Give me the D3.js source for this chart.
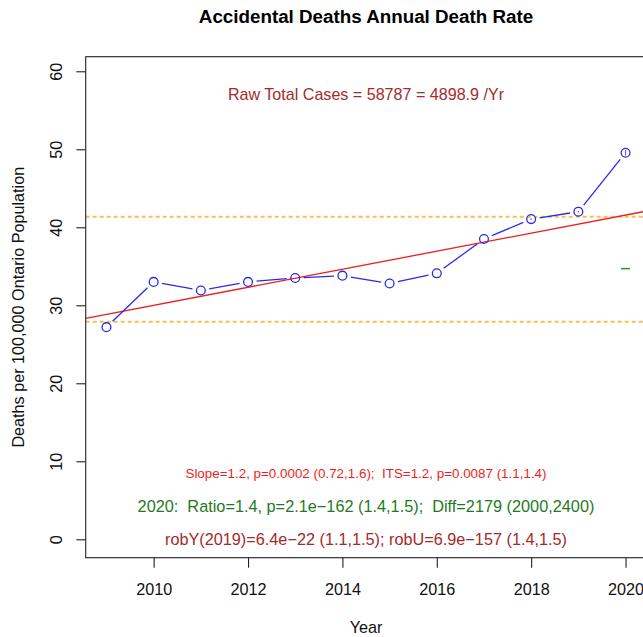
<!DOCTYPE html>
<html><head><meta charset="utf-8">
<script src="https://cdn.jsdelivr.net/npm/d3@7"></script>
<style>
html,body{margin:0;padding:0;background:#fff;overflow:hidden}
svg{display:block;font-family:"Liberation Sans",Arial,Helvetica,sans-serif}
svg text{white-space:pre}
</style></head>
<body>
<script>
// ---- data ----
const years = [2009,2010,2011,2012,2013,2014,2015,2016,2017,2018,2019,2020];
const rates = [27.2,33.0,31.9,33.0,33.5,33.8,32.8,34.1,38.5,41.05,42.0,49.55];
const ciYears = [2018,2019,2020];
const ciLow  = [40.95,41.9,49.2];
const ciHigh = [41.15,42.1,49.9];
const trendYears = [2009,2020];
const trendValues = [28.84,41.56];
const bandValues = [27.9,41.35];
const expected2020 = [34.7];
const xTicks = [2010,2012,2014,2016,2018,2020];
const yTicks = [0,10,20,30,40,50,60];
const title = "Accidental Deaths Annual Death Rate";
const xLabel = "Year";
const yLabel = "Deaths per 100,000 Ontario Population";
const noteTop = "Raw Total Cases = 58787 = 4898.9 /Yr";
const noteSlope = "Slope=1.2, p=0.0002 (0.72,1.6);  ITS=1.2, p=0.0087 (1.1,1.4)";
const noteRatio = "2020:  Ratio=1.4, p=2.1e\u2212162 (1.4,1.5);  Diff=2179 (2000,2400)";
const noteRob = "robY(2019)=6.4e\u221222 (1.1,1.5); robU=6.9e\u2212157 (1.4,1.5)";

const W = 643, H = 637;
const L = 85.7, R = 646.3, T = 56.7, B = 557.7;
const x = d3.scaleLinear().domain([2008.56, 2020.44]).range([L, R]);
const y = d3.scaleLinear().domain([-2.36, 61.87]).range([B, T]);

const svg = d3.select("body").append("svg").attr("width", W).attr("height", H);
svg.append("defs").append("clipPath").attr("id","clip")
  .append("rect").attr("x",L).attr("y",T).attr("width",R-L).attr("height",B-T);

const plot = svg.append("g").attr("clip-path","url(#clip)");

// dashed orange bands
plot.selectAll("line.band").data(bandValues).enter().append("line")
  .attr("x1", L).attr("x2", R).attr("y1", d=>y(d)).attr("y2", d=>y(d))
  .attr("stroke", "#f7bf4f").attr("stroke-width", 2).attr("stroke-dasharray","4,3");

// trend line (extended across plot)
const slope = (trendValues[1]-trendValues[0])/(trendYears[1]-trendYears[0]);
const tv = yr => trendValues[0] + slope*(yr-trendYears[0]);
const [d0, d1] = x.domain();
plot.append("line")
  .attr("x1", x(d0)).attr("y1", y(tv(d0))).attr("x2", x(d1)).attr("y2", y(tv(d1)))
  .attr("stroke", "#ee1c1c").attr("stroke-width", 1.3);

// connecting segments with gaps (type="b")
const gap = 8.5;
const pts = years.map((yr,i)=>[x(yr), y(rates[i])]);
const segs = d3.pairs(pts).map(([a,b])=>{
  const dx=b[0]-a[0], dy=b[1]-a[1], len=Math.hypot(dx,dy);
  const ux=dx/len, uy=dy/len;
  return [a[0]+ux*gap, a[1]+uy*gap, b[0]-ux*gap, b[1]-uy*gap, len];
}).filter(s=>s[4]>2*gap);
plot.selectAll("line.seg").data(segs).enter().append("line")
  .attr("x1",d=>d[0]).attr("y1",d=>d[1]).attr("x2",d=>d[2]).attr("y2",d=>d[3])
  .attr("stroke","#2a2ae6").attr("stroke-width",1.3);

// small CI marks
plot.selectAll("line.ci").data(ciYears).enter().append("line")
  .attr("x1",d=>x(d)).attr("x2",d=>x(d))
  .attr("y1",(d,i)=>y(ciLow[i])).attr("y2",(d,i)=>y(ciHigh[i]))
  .attr("stroke","#6a6ae6").attr("stroke-width",1.2);

// points
plot.selectAll("circle").data(years).enter().append("circle")
  .attr("cx",d=>x(d)).attr("cy",(d,i)=>y(rates[i])).attr("r",4.4)
  .attr("fill","none").attr("stroke","#2a2ae6").attr("stroke-width",1.3);

// expected 2020 marker
plot.selectAll("line.exp").data(expected2020).enter().append("line")
  .attr("x1", x(2020)-4.5).attr("x2", x(2020)+4.5).attr("y1", d=>y(d)).attr("y2", d=>y(d))
  .attr("stroke","#3a8a3a").attr("stroke-width",1.5);

// box
svg.append("rect").attr("x",L).attr("y",T).attr("width",R-L).attr("height",B-T)
  .attr("fill","none").attr("stroke","#222").attr("stroke-width",1.1);

// axes
const xAxis = svg.append("g").attr("transform",`translate(0,${B})`)
  .call(d3.axisBottom(x).tickValues(xTicks).tickFormat(d3.format("d")).tickSize(10).tickPadding(16));
xAxis.select(".domain").remove();
xAxis.selectAll("line").attr("stroke","#222").attr("stroke-width",1.1);
xAxis.selectAll("text").attr("font-size",16.2).attr("fill","#111")
  .attr("font-family",'"Liberation Sans",Arial,sans-serif');

const yAxis = svg.append("g").attr("transform",`translate(${L},0)`)
  .call(d3.axisLeft(y).tickValues(yTicks).tickSize(9.4));
yAxis.select(".domain").remove();
yAxis.selectAll("line").attr("stroke","#222").attr("stroke-width",1.1);
yAxis.selectAll("text").remove();
yAxis.selectAll(".tick").append("text")
  .attr("transform","translate(-29,0) rotate(-90)")
  .attr("text-anchor","middle").attr("dy","0.35em")
  .attr("font-size",16.2).attr("fill","#111")
  .text(d=>d);

// titles
const cx = (L+R)/2;
svg.append("text").attr("x",cx).attr("y",16).attr("dy","0.35em")
  .attr("text-anchor","middle").attr("font-weight","bold").attr("font-size",18.8)
  .attr("fill","#000").text(title);
svg.append("text").attr("x",cx).attr("y",627).attr("dy","0.35em")
  .attr("text-anchor","middle").attr("font-size",16.2).attr("fill","#111").text(xLabel);
svg.append("text").attr("transform",`translate(18,${(T+B)/2}) rotate(-90)`).attr("dy","0.35em")
  .attr("text-anchor","middle").attr("font-size",16.2).attr("fill","#111").text(yLabel);

// annotations
const notes = [
  {t:noteTop,  v:57.0, c:"#a52a2a", s:16.1},
  {t:noteSlope,v:8.4,  c:"#f01e1e", s:13.4},
  {t:noteRatio,v:4.25, c:"#1f7a1f", s:16.3},
  {t:noteRob,  v:0.05, c:"#a52a2a", s:16.25}
];
svg.selectAll("text.note").data(notes).enter().append("text")
  .attr("x",cx).attr("y",d=>y(d.v)).attr("dy","0.35em")
  .attr("text-anchor","middle").attr("font-size",d=>d.s).attr("fill",d=>d.c)
  .text(d=>d.t);
</script>
</body></html>
